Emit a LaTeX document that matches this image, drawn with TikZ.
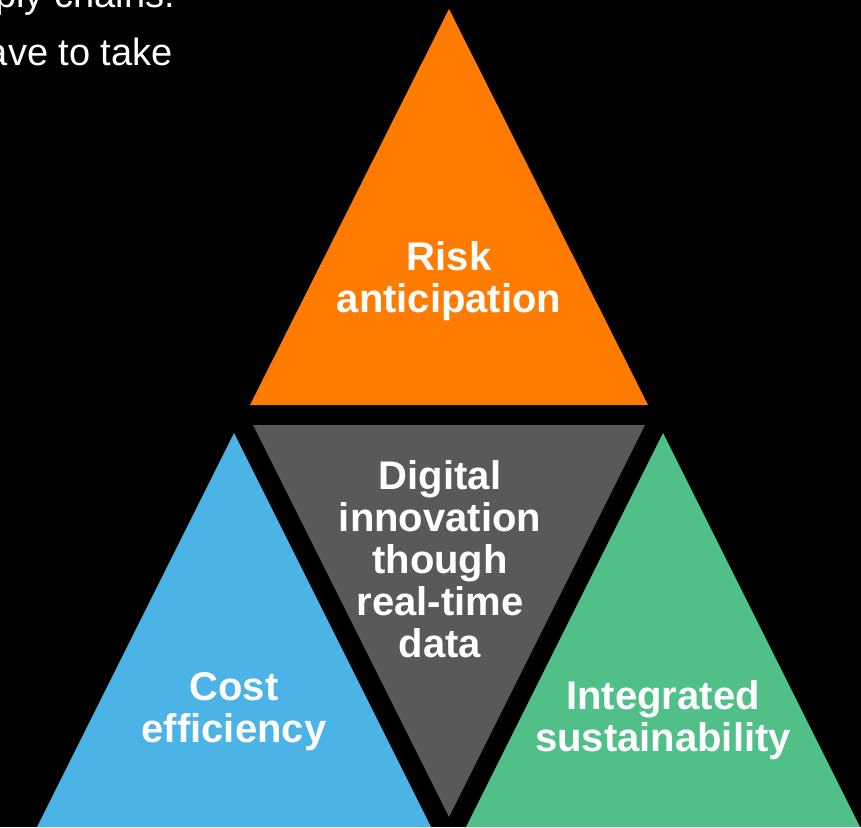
\documentclass[tikz,border=0pt]{standalone}
\usepackage{fontspec}
\setmainfont{Liberation Sans}
\definecolor{riskorange}{HTML}{FF7C00}
\definecolor{midgray}{HTML}{595959}
\definecolor{costblue}{HTML}{4BB3E6}
\definecolor{sustgreen}{HTML}{50BF88}
\tikzset{
  tri/.style={draw=none},
  label/.style={text=white, font=\fontsize{40}{42}\selectfont\bfseries, align=center, inner sep=0pt, anchor=center},
  bodytext/.style={text=white, font=\fontsize{38}{40}\selectfont, inner sep=0pt, anchor=base east}
}
\begin{document}
\begin{tikzpicture}[x=1pt, y=-1pt]
\useasboundingbox (0,0) rectangle (861,827);
\fill[black] (0,0) rectangle (861,827);
% triangles
\fill[riskorange, tri] (449,9) -- (648,405) -- (250,405) -- cycle;
\fill[midgray, tri] (253,425) -- (645,425) -- (449,817) -- cycle;
\fill[costblue, tri] (234,433) -- (431,827) -- (37,827) -- cycle;
\fill[sustgreen, tri] (663,433) -- (860,827) -- (466,827) -- cycle;
% labels
\node[label] (risk) at (449,281) {Risk\\anticipation};
\node[label] (digital) at (440,559) {Digital\\innovation\\though\\real-time\\data};
\node[label] (cost) at (234,712) {Cost\\efficiency};
\node[label] (integ) at (663,720) {Integrated\\sustainability};
% clipped body text
\node[bodytext] (line1) at (175,8) {ply chains.};
\node[bodytext] (line2) at (173,65) {ave to take};
\end{tikzpicture}
\end{document}
